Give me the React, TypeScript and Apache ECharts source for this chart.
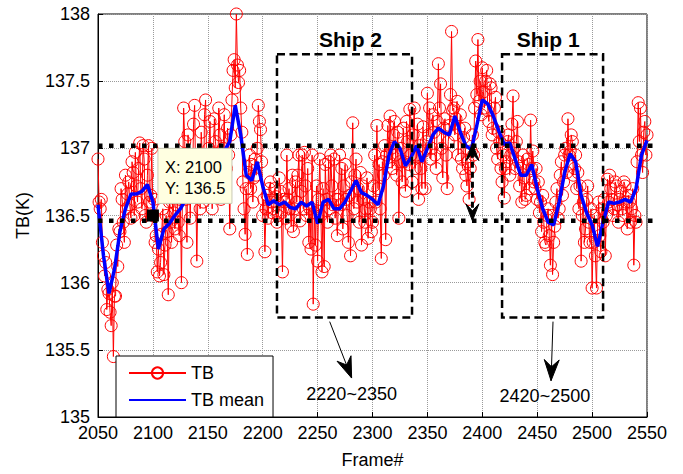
import React, { useEffect, useRef } from "react";
import * as echarts from "echarts";

// ---- data ----
const TB_START = 2050;
const TB_STEP = 1;
const tbValues = [
  136.92, 136.6, 136.55, 136.62, 136.3, 136.2, 136.05, 136.15, 135.8, 135.95,
  135.92, 135.78, 135.68, 136.0, 135.45, 135.9, 135.9, 136.28, 136.12, 136.4,
  136.38, 136.7, 136.62, 136.45, 136.3, 136.8, 136.55, 136.66, 136.75, 136.58,
  136.48, 136.9, 136.82, 136.5, 136.97, 136.72, 136.6, 136.85, 137.04, 136.7,
  136.55, 137.02, 136.92, 136.5, 136.45, 136.8, 137.02, 136.6, 136.65, 137.0,
  136.5, 136.62, 136.3, 136.35, 136.08, 136.25, 136.05, 136.15, 136.36, 136.55,
  136.06, 136.28, 136.5, 136.38, 135.91, 136.6, 136.45, 136.3, 136.63, 136.52,
  136.4, 136.58, 136.7, 136.45, 136.35, 136.62, 136.0, 136.72, 137.3, 137.05,
  136.62, 136.3, 137.1, 136.82, 136.48, 136.9, 136.68, 137.18, 137.32, 136.75,
  136.16, 136.7, 136.85, 136.55, 137.12, 136.95, 136.6, 137.25, 137.36, 136.88,
  136.7, 137.0, 137.2, 136.8, 136.55, 136.92, 137.22, 137.05, 136.95, 136.72,
  137.3, 137.1, 136.62, 136.9, 137.0, 137.25, 136.7, 136.85, 137.15, 136.95,
  136.4, 137.1, 137.36, 137.58, 137.66, 137.45, 138.0, 137.62, 137.49, 137.58,
  137.3, 137.12, 136.75, 136.55, 136.36, 136.7, 136.21, 136.82, 136.95, 136.7,
  136.88, 136.6, 136.78, 136.92, 136.8, 137.0, 137.32, 137.2, 137.14, 136.9,
  136.5, 136.62, 136.23, 136.55, 136.65, 136.48, 136.7, 136.75, 136.6, 136.52,
  136.55, 136.7, 136.64, 136.45, 136.5, 136.78, 136.68, 136.52, 136.08, 136.62,
  136.6, 136.48, 136.95, 136.62, 136.7, 136.55, 136.42, 136.8, 136.38, 136.55,
  136.75, 136.6, 136.8, 136.95, 136.46, 136.68, 136.95, 136.55, 136.97, 136.72,
  136.5, 136.85, 136.3, 136.55, 136.25, 136.95, 135.84, 136.52, 136.28, 136.72,
  136.16, 136.62, 136.92, 136.5, 136.08, 136.7, 136.12, 136.88, 136.62, 136.45,
  136.9, 136.55, 136.95, 136.72, 136.58, 136.92, 136.48, 136.62, 136.35, 136.62,
  136.95, 136.58, 136.85, 136.4, 136.72, 136.88, 136.62, 136.5, 136.3, 136.65,
  136.2, 136.75, 137.19, 136.55, 136.8, 136.92, 136.6, 136.7, 136.45, 136.82,
  136.28, 136.72, 136.62, 136.45, 136.55, 136.78, 136.33, 136.6, 136.55, 136.38,
  136.45, 136.72, 136.95, 136.6, 137.17, 136.7, 136.88, 136.55, 136.18, 136.9,
  136.8, 137.02, 136.32, 136.95, 137.17, 136.9, 137.24, 137.0, 136.85, 137.1,
  137.2, 136.95, 136.8, 137.12, 136.48, 136.9, 137.0, 136.75, 137.15, 136.9,
  136.68, 137.2, 137.05, 136.88, 137.29, 136.95, 136.75, 137.1, 137.3, 136.85,
  136.95, 137.18, 136.62, 137.02, 136.85, 136.7, 137.16, 136.98, 136.7, 137.05,
  137.41, 137.1, 137.3, 136.92, 137.0, 137.25, 137.12, 136.95, 136.85, 137.2,
  137.63, 137.3, 137.48, 137.0, 136.78, 137.15, 137.22, 136.95, 136.7, 137.05,
  137.17, 137.4, 137.87, 137.28, 137.3, 137.1, 137.22, 137.35, 136.95, 137.15,
  137.25, 136.92, 136.85, 137.08, 137.15, 136.8, 136.72, 136.9, 136.62, 136.85,
  136.98, 137.1, 136.95, 137.3, 137.65, 137.4, 137.81, 137.35, 137.5, 137.25,
  137.6, 137.42, 137.3, 137.5, 137.58, 137.28, 137.2, 137.48, 137.45, 137.1,
  137.15, 137.3, 137.38, 137.0, 136.92, 137.12, 137.05, 136.85, 136.75, 136.95,
  136.63, 136.85, 136.9, 137.05, 137.1, 136.8, 136.95, 137.18, 137.39, 137.0,
  136.85, 137.05, 137.2, 136.9, 136.72, 136.85, 136.6, 136.95, 136.78, 136.62,
  136.65, 136.92, 136.88, 136.7, 137.21, 136.85, 136.98, 136.75, 136.7, 136.85,
  136.62, 136.75, 136.52, 136.6, 136.38, 136.65, 136.45, 136.3, 136.28, 136.5,
  136.55, 136.35, 136.13, 136.5, 136.06, 136.3, 136.42, 136.6, 136.7, 136.48,
  136.55, 136.8, 136.9, 136.65, 136.75, 136.95, 137.0, 136.82, 137.22, 136.95,
  136.98, 137.1, 137.05, 136.8, 136.85, 136.95, 136.7, 136.82, 136.55, 136.72,
  136.16, 136.5, 136.6, 136.3, 136.4, 136.62, 136.72, 136.45, 136.3, 136.55,
  135.96, 136.3, 136.5, 136.2, 135.96, 136.4, 136.6, 136.35, 136.23, 136.55,
  136.45, 136.62, 136.2, 136.5, 136.77, 136.6, 136.8, 136.7, 136.62, 136.5,
  136.55, 136.75, 136.72, 136.58, 136.45, 136.62, 136.68, 136.55, 136.5, 136.75,
  136.72, 136.6, 136.4, 136.65, 136.6, 136.45, 136.55, 136.7, 136.13, 136.5,
  136.45, 136.9, 137.34, 137.05, 137.3, 136.95, 136.82, 137.12, 137.2, 136.95,
  137.1,
];

const MEAN_START = 2050;
const MEAN_STEP = 5;
const meanValues = [
  136.58, 136.2, 135.92, 136.1, 136.38,
  136.55, 136.66, 136.66, 136.68, 136.73,
  136.6, 136.25, 136.4, 136.44, 136.5,
  136.55, 136.62, 136.6, 136.65, 136.68,
  136.72, 136.8, 136.9, 136.98, 137.05,
  137.32, 137.1, 136.8, 136.76, 136.9,
  136.72, 136.58, 136.61, 136.58, 136.6,
  136.56, 136.55, 136.6, 136.57, 136.6,
  136.44, 136.6, 136.62, 136.55, 136.55,
  136.6, 136.68, 136.76, 136.67, 136.65,
  136.62, 136.58, 136.72, 136.95, 137.05,
  137.0, 136.87, 136.93, 137.02, 136.9,
  137.0, 137.1, 137.15, 137.12, 137.1,
  137.24, 137.12, 137.02, 136.99, 137.17,
  137.36, 137.33, 137.24, 137.13, 137.03,
  137.04, 136.92, 136.8, 136.8, 136.88,
  136.7, 136.55, 136.45, 136.43, 136.6,
  136.82, 136.96, 136.9, 136.65, 136.52,
  136.43, 136.27, 136.45, 136.6, 136.59,
  136.6, 136.62, 136.6, 136.7, 136.95,
  137.06,
];

// reference levels (thick dotted lines)
const refLevels = [137.02, 136.46];
const refLineEnd = 2559;

// ship windows
const ships = [
  {
    name: "Ship 2", x0: 2213, x1: 2336, y0: 135.74, y1: 137.7,
    labelAt: [2280, 137.81], arrowFrom: [2261, 135.71], arrowTo: [2281, 135.29],
    range: "2220~2350", rangeAt: [2281, 135.17],
  },
  {
    name: "Ship 1", x0: 2418, x1: 2510, y0: 135.74, y1: 137.7,
    labelAt: [2460, 137.81], arrowFrom: [2464.4, 135.71], arrowTo: [2462.6, 135.27],
    range: "2420~2500", rangeAt: [2457, 135.155],
  },
];

// double arrow between the two levels
const gapArrowFrame = 2391;

// data tip
const tipPoint = [2100, 136.5];
const tipBox = { x0: 2104.6, y0: 137.0, x1: 2172, y1: 136.59 };

const FONT = "'Liberation Sans', Arial, Helvetica, sans-serif";

export default function App() {
  const ref = useRef<HTMLDivElement>(null);

  useEffect(() => {
    const chart = echarts.init(ref.current!, null, { renderer: "svg" });

    const tbData = tbValues.map((v, i) => [TB_START + i * TB_STEP, v]);
    const meanData = meanValues.map((v, i) => [MEAN_START + i * MEAN_STEP, v]);

    chart.setOption({
      animation: false,
      backgroundColor: "#fff",
      grid: {
        left: 98, top: 14, width: 549, height: 407,
        show: true, borderColor: "#000", borderWidth: 1,
      },
      xAxis: {
        type: "value", min: 2050, max: 2550, interval: 50,
        axisLine: { show: true, lineStyle: { color: "#000", width: 1 } },
        axisTick: { show: true, inside: true, length: 5, lineStyle: { color: "#000" } },
        axisLabel: {
          color: "#000", fontSize: 18, fontFamily: FONT, margin: 7,
          formatter: (v: number) => String(v),
        },
        splitLine: { show: true, lineStyle: { color: "#9a9a9a", type: "dotted", width: 1 } },
        name: "Frame#", nameLocation: "middle", nameGap: 34,
        nameTextStyle: { color: "#000", fontSize: 18, fontFamily: FONT },
      },
      yAxis: {
        type: "value", min: 135, max: 138, interval: 0.5,
        axisLine: { show: true, lineStyle: { color: "#000", width: 1 } },
        axisTick: { show: true, inside: true, length: 5, lineStyle: { color: "#000" } },
        axisLabel: { color: "#000", fontSize: 18, fontFamily: FONT, margin: 8 },
        splitLine: { show: true, lineStyle: { color: "#9a9a9a", type: "dotted", width: 1 } },
        name: "TB(K)", nameLocation: "middle", nameGap: 66,
        nameTextStyle: { color: "#000", fontSize: 18, fontFamily: FONT },
      },
      legend: {
        orient: "vertical", left: 116, top: 356,
        padding: [8, 9, 8, 12], itemGap: 9,
        itemWidth: 57, itemHeight: 14,
        backgroundColor: "#fff", borderColor: "#000", borderWidth: 1,
        textStyle: { color: "#000", fontSize: 18, fontFamily: FONT },
        data: [
          "TB",
          { name: "TB mean", itemStyle: { color: "rgba(0,0,0,0)", borderColor: "rgba(0,0,0,0)", borderWidth: 0 } },
        ],
      },
      series: [
        {
          name: "TB", type: "line", data: tbData,
          symbol: "circle", symbolSize: 12,
          itemStyle: { color: "rgba(255,255,255,0)", borderColor: "#ff0000", borderWidth: 1 },
          lineStyle: { color: "#ff0000", width: 1 },
          z: 2,
        },
        {
          name: "TB mean", type: "line", data: meanData,
          symbol: "none", smooth: false,
          itemStyle: { color: "#0000ff" },
          lineStyle: { color: "#0000ff", width: 3.5 },
          z: 3,
        },
      ],
    });

    const px = (x: number, y: number) =>
      chart.convertToPixel({ gridIndex: 0 }, [x, y]) as number[];

    const head = (tip: number[], from: number[], L: number, W: number, notch: number) => {
      const dx = tip[0] - from[0];
      const dy = tip[1] - from[1];
      const len = Math.hypot(dx, dy) || 1;
      const ux = dx / len, uy = dy / len;
      const nx = -uy, ny = ux;
      return [
        [tip[0], tip[1]],
        [tip[0] - ux * L + nx * W / 2, tip[1] - uy * L + ny * W / 2],
        [tip[0] - ux * (L - notch), tip[1] - uy * (L - notch)],
        [tip[0] - ux * L - nx * W / 2, tip[1] - uy * L - ny * W / 2],
      ];
    };

    const g: any[] = [];

    refLevels.forEach((v) => {
      const a = px(2050, v);
      const b = px(refLineEnd, v);
      g.push({
        type: "line", z: 100, silent: true,
        shape: { x1: a[0], y1: a[1], x2: b[0], y2: b[1] },
        style: { stroke: "#000", lineWidth: 4.5, lineDash: [4.5, 6.5] },
      });
    });

    ships.forEach((s) => {
      const p0 = px(s.x0, s.y1);
      const p1 = px(s.x1, s.y0);
      g.push({
        type: "rect", z: 100, silent: true,
        shape: { x: p0[0], y: p0[1], width: p1[0] - p0[0], height: p1[1] - p0[1] },
        style: { fill: "none", stroke: "#000", lineWidth: 2.5, lineDash: [8, 4.5] },
      });
      const lp = px(s.labelAt[0], s.labelAt[1]);
      g.push({
        type: "text", z: 101, silent: true, x: lp[0], y: lp[1],
        style: {
          text: s.name, fontSize: 21, fontWeight: "bold", fontFamily: FONT, fill: "#000",
          align: "center", verticalAlign: "middle", textAlign: "center", textVerticalAlign: "middle",
        },
      });
      const af = px(s.arrowFrom[0], s.arrowFrom[1]);
      const at = px(s.arrowTo[0], s.arrowTo[1]);
      g.push({
        type: "line", z: 100, silent: true,
        shape: { x1: af[0], y1: af[1], x2: at[0], y2: at[1] },
        style: { stroke: "#000", lineWidth: 1 },
      });
      g.push({
        type: "polygon", z: 100, silent: true,
        shape: { points: head(at, af, 21, 15, 7) },
        style: { fill: "#000", stroke: "#000", lineWidth: 1 },
      });
      const rp = px(s.rangeAt[0], s.rangeAt[1]);
      g.push({
        type: "text", z: 101, silent: true, x: rp[0], y: rp[1],
        style: {
          text: s.range, fontSize: 18, fontFamily: FONT, fill: "#000",
          align: "center", verticalAlign: "middle", textAlign: "center", textVerticalAlign: "middle",
        },
      });
    });

    // double arrow between levels
    {
      const top = px(gapArrowFrame, refLevels[0]);
      const bot = px(gapArrowFrame, refLevels[1]);
      const tTip = [top[0], top[1] - 2];
      const bTip = [bot[0], bot[1]];
      g.push({
        type: "line", z: 101, silent: true,
        shape: { x1: tTip[0], y1: tTip[1] + 8, x2: bTip[0], y2: bTip[1] - 8 },
        style: { stroke: "#000", lineWidth: 3, lineDash: [6, 4] },
      });
      g.push({
        type: "polygon", z: 101, silent: true,
        shape: { points: head(tTip, [tTip[0], tTip[1] + 40], 17, 13, 7) },
        style: { fill: "#000", stroke: "#000", lineWidth: 1 },
      });
      g.push({
        type: "polygon", z: 101, silent: true,
        shape: { points: head(bTip, [bTip[0], bTip[1] - 40], 17, 13, 7) },
        style: { fill: "#000", stroke: "#000", lineWidth: 1 },
      });
    }

    // data tip
    {
      const p = px(tipPoint[0], tipPoint[1]);
      g.push({
        type: "rect", z: 102, silent: true,
        shape: { x: p[0] - 6, y: p[1] - 6, width: 12, height: 12 },
        style: { fill: "#000" },
      });
      const b0 = px(tipBox.x0, tipBox.y0);
      const b1 = px(tipBox.x1, tipBox.y1);
      g.push({
        type: "rect", z: 102, silent: true,
        shape: { x: b0[0], y: b0[1], width: b1[0] - b0[0], height: b1[1] - b0[1] },
        style: { fill: "#ffffe1", stroke: "#c8c8b4", lineWidth: 1 },
      });
      const h = b1[1] - b0[1];
      g.push({
        type: "text", z: 103, silent: true, x: b0[0] + 7, y: b0[1] + h * 0.34,
        style: {
          text: "X: " + tipPoint[0], fontSize: 16.5, fontFamily: FONT, fill: "#000",
          align: "left", verticalAlign: "middle", textAlign: "left", textVerticalAlign: "middle",
        },
      });
      g.push({
        type: "text", z: 103, silent: true, x: b0[0] + 7, y: b0[1] + h * 0.72,
        style: {
          text: "Y: " + tipPoint[1], fontSize: 16.5, fontFamily: FONT, fill: "#000",
          align: "left", verticalAlign: "middle", textAlign: "left", textVerticalAlign: "middle",
        },
      });
    }

    chart.setOption({ graphic: g });

    return () => chart.dispose();
  }, []);

  return (
    <div
      ref={ref}
      style={{ position: "absolute", left: 0, top: 0, width: 683, height: 474, background: "#fff" }}
    />
  );
}
